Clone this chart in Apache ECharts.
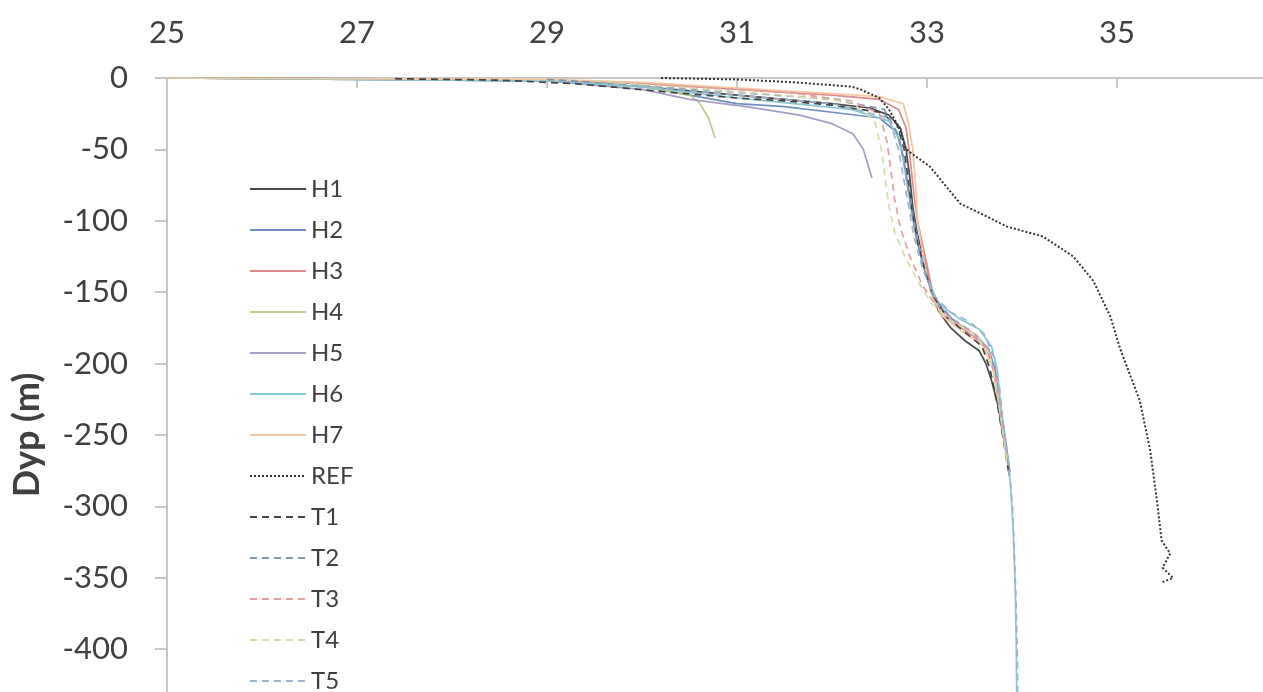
<!DOCTYPE html>
<html>
<head>
<meta charset="utf-8">
<title>Dyp profile</title>
<script src="https://cdn.jsdelivr.net/npm/echarts@6/dist/echarts.min.js"></script>
<style>
  html, body { margin: 0; padding: 0; background: #fff; }
  #chart { width: 1263px; height: 692px; }
</style>
</head>
<body>
<div id="chart"></div>
<script>
// x ticks on the top axis
var xTicks = [25, 27, 29, 31, 33, 35]

// profiles: [x, depth (m)]
var h1 = [[25, 0], [27, -0.5], [29, -2], [30, -6], [31, -12], [31.5, -15], [32, -18], [32.4, -21], [32.6, -26], [32.72, -35], [32.78, -50], [32.82, -70], [32.85, -90], [32.9, -110], [32.98, -130], [33.05, -150], [33.12, -163], [33.25, -175], [33.4, -184], [33.55, -191], [33.62, -200], [33.68, -212], [33.75, -230], [33.8, -250], [33.85, -268], [33.87, -276]]
var h2 = [[25, 0], [29, -2], [30, -6], [30.5, -12], [31, -18], [31.5, -20], [32, -24], [32.5, -28], [32.68, -38], [32.75, -55], [32.8, -75], [32.85, -95], [32.92, -120], [33.0, -140], [33.1, -158], [33.3, -171], [33.5, -179], [33.65, -190], [33.72, -205], [33.76, -225], [33.82, -250], [33.87, -275]]
var h3 = [[25, 0], [29, -1.5], [30, -4], [31, -8], [32, -12], [32.5, -15], [32.7, -22], [32.78, -35], [32.82, -55], [32.86, -80], [32.9, -100], [32.98, -125], [33.06, -150], [33.2, -168], [33.45, -179], [33.62, -188], [33.7, -205], [33.76, -230], [33.82, -255], [33.86, -272]]
var h4 = [[25, 0], [29, -2], [30, -6], [30.5, -12], [30.6, -17], [30.7, -28], [30.77, -42]]
var h5 = [[25, 0], [29, -2], [30, -8], [30.5, -15], [31.1, -20], [31.66, -26], [32.0, -32], [32.22, -39], [32.33, -50], [32.42, -70]]
var h6 = [[25, 0], [29, -2], [30, -6], [31, -14], [31.6, -18], [32.2, -22], [32.6, -30], [32.72, -45], [32.78, -70], [32.84, -95], [32.92, -120], [33.0, -140], [33.12, -158], [33.35, -169], [33.55, -176], [33.68, -188], [33.74, -205], [33.77, -225], [33.82, -255], [33.88, -285], [33.91, -320], [33.93, -360], [33.94, -400], [33.95, -480]]
var h7 = [[25, 0], [29, -1], [30, -3], [31, -7], [32, -11], [32.5, -13], [32.75, -18], [32.8, -30], [32.85, -50], [32.88, -75], [32.9, -100], [32.96, -125], [33.04, -150], [33.15, -166], [33.4, -179], [33.6, -188], [33.7, -205], [33.76, -230], [33.82, -258], [33.86, -272]]
var ref = [[30.2, 0], [31.0, -1], [31.6, -3], [32.2, -6], [32.3, -8], [32.5, -14], [32.6, -22], [32.7, -34], [32.78, -50], [33.03, -62], [33.35, -88], [33.63, -97], [33.84, -104], [34.22, -111], [34.54, -125], [34.75, -142], [34.93, -167], [35.03, -189], [35.24, -226], [35.35, -261], [35.42, -296], [35.47, -324], [35.56, -333], [35.48, -343], [35.59, -350], [35.48, -353]]
var t1 = [[27.4, -0.5], [28.5, -1.5], [29.3, -4], [30.3, -10], [31, -14], [31.5, -16], [32, -19], [32.5, -24], [32.68, -32], [32.76, -50], [32.8, -70], [32.84, -92], [32.9, -115], [32.98, -135], [33.06, -152], [33.2, -167], [33.4, -178], [33.58, -188], [33.66, -203], [33.74, -228], [33.8, -252], [33.86, -276]]
var t2 = [[29, -1], [30, -5], [31, -10], [32, -15], [32.55, -22], [32.7, -40], [32.76, -60], [32.82, -85], [32.88, -110], [32.96, -132], [33.06, -152], [33.25, -168], [33.48, -178], [33.64, -190], [33.72, -208], [33.77, -232], [33.83, -258], [33.87, -280]]
var t3 = [[29.5, -2], [30.5, -6], [31.5, -10], [32.2, -16], [32.5, -25], [32.58, -45], [32.62, -65], [32.66, -85], [32.72, -105], [32.82, -125], [32.95, -145], [33.1, -160], [33.3, -171], [33.52, -180], [33.66, -193], [33.73, -212], [33.78, -238], [33.84, -265]]
var t4 = [[29.5, -2], [30.5, -7], [31.5, -12], [32.2, -17], [32.45, -30], [32.52, -50], [32.56, -70], [32.6, -90], [32.66, -108], [32.76, -124], [32.9, -142], [33.05, -158], [33.25, -170], [33.5, -179], [33.65, -192], [33.72, -212], [33.78, -240], [33.84, -268]]
var t5 = [[30, -6], [31, -12], [32, -18], [32.6, -28], [32.7, -50], [32.78, -80], [32.86, -110], [32.96, -135], [33.08, -153], [33.25, -164], [33.45, -171], [33.6, -179], [33.7, -195], [33.76, -215], [33.8, -240], [33.86, -270], [33.9, -300], [33.93, -350], [33.95, -400], [33.96, -480]]

var profiles = [
  { name: 'H1', data: h1, color: '#4a4a4a', type: 'solid' },
  { name: 'H2', data: h2, color: '#6f8fbd', type: 'solid' },
  { name: 'H3', data: h3, color: '#dc8a8c', type: 'solid' },
  { name: 'H4', data: h4, color: '#bccc8e', type: 'solid' },
  { name: 'H5', data: h5, color: '#a59dc6', type: 'solid' },
  { name: 'H6', data: h6, color: '#86c8d4', type: 'solid' },
  { name: 'H7', data: h7, color: '#f6c79e', type: 'solid' },
  { name: 'REF', data: ref, color: '#333333', type: [2, 2], width: 2 },
  { name: 'T1', data: t1, color: '#444444', type: [7, 5] },
  { name: 'T2', data: t2, color: '#8193b3', type: [7, 5] },
  { name: 'T3', data: t3, color: '#e2a0a2', type: [7, 5] },
  { name: 'T4', data: t4, color: '#d6dca8', type: [7, 5] },
  { name: 'T5', data: t5, color: '#9fb3cf', type: [7, 5] }
]

var chart = echarts.init(document.getElementById('chart'))

chart.setOption({
  animation: false,
  textStyle: { fontFamily: 'Lato' },
  // axes run on past the picture edge (to 37 and -500), as in the cropped original
  grid: {
    left: 167,
    top: 78,
    right: -44,
    bottom: -100,
    outerBoundsMode: 'none'
  },
  legend: {
    orient: 'vertical',
    left: 244,
    top: 172,
    height: 700,
    itemWidth: 56,
    itemHeight: 14,
    itemGap: 17,
    itemTextGap: 2,
    itemStyle: { opacity: 0 },
    textStyle: { fontSize: 24, color: '#404040', fontFamily: 'Lato' },
    data: profiles.map(function (p) { return p.name })
  },
  xAxis: {
    type: 'value',
    position: 'top',
    min: 25,
    max: 37,
    splitLine: { show: false },
    axisLine: { lineStyle: { color: '#c8c8c8', width: 2 } },
    axisTick: {
      inside: true,
      length: 10,
      customValues: xTicks,
      lineStyle: { color: '#c8c8c8', width: 2 }
    },
    axisLabel: {
      customValues: xTicks,
      margin: 30,
      fontSize: 31,
      color: '#404040'
    }
  },
  yAxis: {
    type: 'value',
    min: -500,
    max: 0,
    interval: 50,
    name: 'Dyp (m)',
    nameLocation: 'middle',
    nameRotate: 90,
    nameGap: 122,
    nameTextStyle: { fontSize: 36, fontWeight: 'bold', color: '#404040' },
    splitLine: { show: false },
    axisLine: { show: true, lineStyle: { color: '#c8c8c8', width: 2 } },
    axisTick: { show: true, length: 12, lineStyle: { color: '#c8c8c8', width: 2 } },
    axisLabel: { margin: 39, fontSize: 31, color: '#404040' }
  },
  series: profiles.map(function (p) {
    return {
      name: p.name,
      type: 'line',
      data: p.data,
      symbol: 'none',
      color: p.color,
      lineStyle: { color: p.color, width: p.width || 1.7, type: p.type }
    }
  })
})
</script>
</body>
</html>
